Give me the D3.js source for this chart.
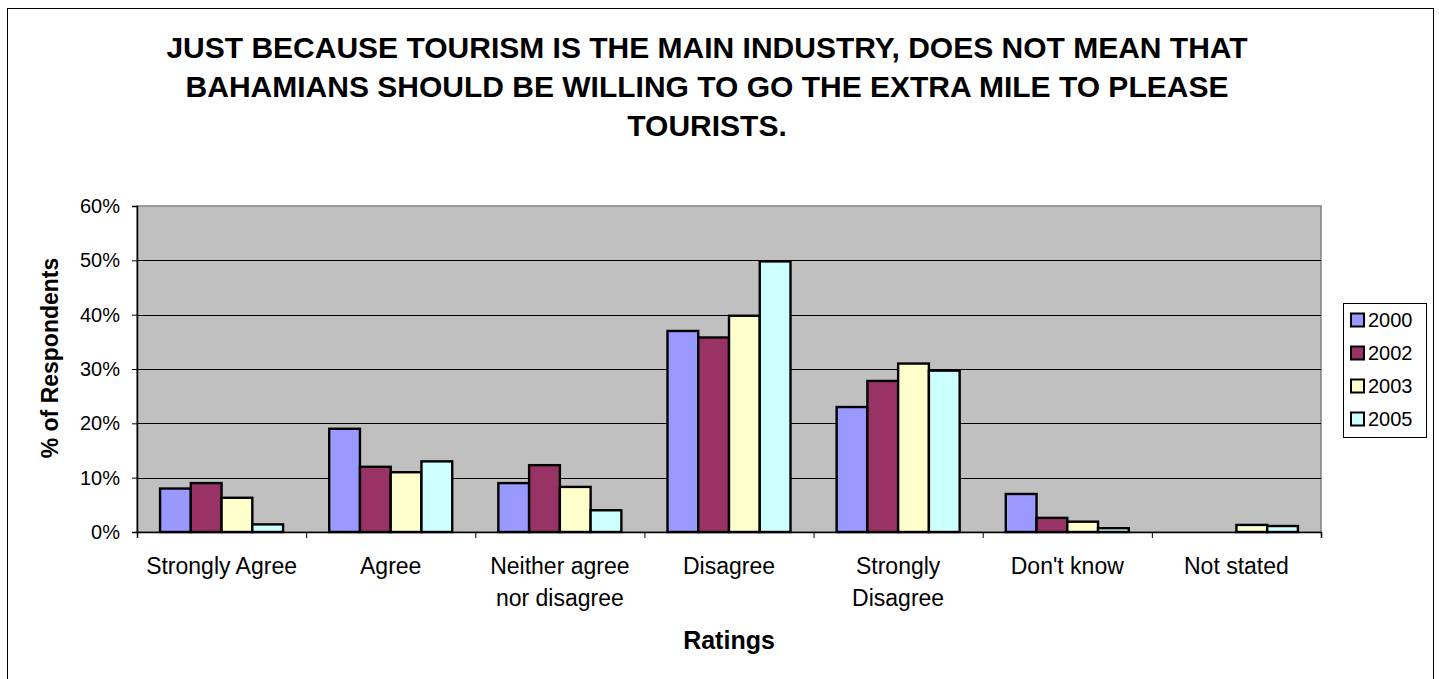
<!DOCTYPE html>
<html>
<head>
<meta charset="utf-8">
<script src="https://cdn.jsdelivr.net/npm/d3@7"></script>
<style>
  html, body { margin: 0; padding: 0; background: #fff; }
  svg { display: block; font-family: Arial, "Liberation Sans", sans-serif; }
</style>
</head>
<body>
<svg id="chart" width="1439" height="679"></svg>
<script>
// Survey ratings by year (share of respondents, %)
const categories = [
  ["Strongly Agree"],
  ["Agree"],
  ["Neither agree", "nor disagree"],
  ["Disagree"],
  ["Strongly", "Disagree"],
  ["Don't know"],
  ["Not stated"]
];
const years = ["2000", "2002", "2003", "2005"];
const values2000 = [8, 19, 9, 37, 23, 7, 0];
const values2002 = [9, 12, 12.3, 35.8, 27.8, 2.6, 0];
const values2003 = [6.3, 11, 8.3, 39.8, 31, 1.9, 1.3];
const values2005 = [1.4, 13, 4, 49.8, 29.7, 0.7, 1.1];
const yTicks = [0, 10, 20, 30, 40, 50, 60];
const titleLines = [
  "JUST BECAUSE TOURISM IS THE MAIN INDUSTRY, DOES NOT MEAN THAT",
  "BAHAMIANS SHOULD BE WILLING TO GO THE EXTRA MILE TO PLEASE",
  "TOURISTS."
];

const seriesValues = [values2000, values2002, values2003, values2005];
const colors = ["#9999FF", "#993366", "#FFFFCC", "#CCFFFF"];

const svg = d3.select("#chart");

// outer chart frame
svg.append("rect")
  .attr("x", 7.5).attr("y", 8.5)
  .attr("width", 1426).attr("height", 700)
  .attr("fill", "#fff").attr("stroke", "#000").attr("stroke-width", 1);

const plot = { left: 137, right: 1321, top: 206, bottom: 532 };

const x0 = d3.scaleBand()
  .domain(d3.range(categories.length))
  .range([plot.left, plot.right])
  .paddingInner(0).paddingOuter(0);

// gap between groups is 1.5 bar widths, split half on each side
const gap = x0.bandwidth() * 1.5 / 5.5 / 2;
const x1 = d3.scaleBand()
  .domain(years)
  .range([gap, x0.bandwidth() - gap])
  .padding(0);

const y = d3.scaleLinear().domain([0, 60]).range([plot.bottom, plot.top]);

// plot area
svg.append("rect")
  .attr("x", plot.left).attr("y", plot.top)
  .attr("width", plot.right - plot.left).attr("height", plot.bottom - plot.top)
  .attr("fill", "#C0C0C0").attr("stroke", "#808080").attr("stroke-width", 1.5);

// horizontal gridlines
svg.append("g")
  .selectAll("line")
  .data(yTicks.filter(t => t > 0 && t < 60))
  .join("line")
  .attr("x1", plot.left).attr("x2", plot.right)
  .attr("y1", d => Math.round(y(d)) + 0.5).attr("y2", d => Math.round(y(d)) + 0.5)
  .attr("stroke", "#000").attr("stroke-width", 1);

// bars
const groups = svg.append("g")
  .selectAll("g")
  .data(categories.map((c, i) => i))
  .join("g")
  .attr("transform", i => `translate(${x0(i)},0)`);

groups.selectAll("rect")
  .data(i => years.map((yr, s) => ({ yr, s, v: seriesValues[s][i] })).filter(d => d.v > 0))
  .join("rect")
  .attr("x", d => x1(d.yr))
  .attr("y", d => y(d.v))
  .attr("width", x1.bandwidth())
  .attr("height", d => y(0) - y(d.v))
  .attr("fill", d => colors[d.s])
  .attr("stroke", "#000").attr("stroke-width", 2.4);

// y axis
const yAxis = d3.axisLeft(y)
  .tickValues(yTicks)
  .tickFormat(d => d + "%")
  .tickSize(5)
  .tickPadding(12);
const gy = svg.append("g")
  .attr("transform", `translate(${plot.left},0)`)
  .call(yAxis);
gy.select(".domain").attr("stroke", "#000").attr("stroke-width", 1.5);
gy.selectAll(".tick line").attr("stroke", "#000");
gy.selectAll(".tick text")
  .attr("font-size", 20).attr("fill", "#000")
  .attr("font-family", "Arial, 'Liberation Sans', sans-serif");

// x axis
const xLin = d3.scaleLinear().domain([0, categories.length]).range([plot.left, plot.right]);
const gx = svg.append("g")
  .attr("transform", `translate(0,${plot.bottom})`)
  .call(d3.axisBottom(xLin).tickValues(d3.range(categories.length + 1)).tickSize(6).tickFormat(""));
gx.select(".domain").attr("stroke", "#000").attr("stroke-width", 1.5);
gx.selectAll(".tick line").attr("stroke", "#000");

// category labels
const catLabels = svg.append("g")
  .selectAll("text")
  .data(categories)
  .join("text")
  .attr("x", (d, i) => x0(i) + x0.bandwidth() / 2)
  .attr("y", 574)
  .attr("text-anchor", "middle")
  .attr("font-size", 23)
  .attr("fill", "#000");
catLabels.selectAll("tspan")
  .data(d => d)
  .join("tspan")
  .attr("x", function () { return d3.select(this.parentNode).attr("x"); })
  .attr("dy", (d, i) => i === 0 ? 0 : 32)
  .text(d => d);

// axis titles
svg.append("text")
  .attr("x", 729).attr("y", 649)
  .attr("text-anchor", "middle")
  .attr("font-size", 25).attr("font-weight", "bold")
  .text("Ratings");

svg.append("text")
  .attr("transform", "translate(58,358) rotate(-90)")
  .attr("text-anchor", "middle")
  .attr("font-size", 23).attr("font-weight", "bold")
  .text("% of Respondents");

// title
svg.append("g")
  .selectAll("text")
  .data(titleLines)
  .join("text")
  .attr("x", 707)
  .attr("y", (d, i) => 58 + i * 39)
  .attr("text-anchor", "middle")
  .attr("font-size", 30).attr("font-weight", "bold")
  .text(d => d);

// legend
const legend = svg.append("g");
legend.append("rect")
  .attr("x", 1343.5).attr("y", 303.5)
  .attr("width", 83).attr("height", 134)
  .attr("fill", "#fff").attr("stroke", "#000").attr("stroke-width", 1);
const items = legend.selectAll("g.item")
  .data(years)
  .join("g")
  .attr("class", "item")
  .attr("transform", (d, i) => `translate(0,${320 + i * 33})`);
items.append("rect")
  .attr("x", 1351).attr("y", -6.5)
  .attr("width", 13).attr("height", 13)
  .attr("fill", (d, i) => colors[i])
  .attr("stroke", "#000").attr("stroke-width", 2);
items.append("text")
  .attr("x", 1368).attr("y", 7)
  .attr("font-size", 20)
  .text(d => d);
</script>
</body>
</html>
